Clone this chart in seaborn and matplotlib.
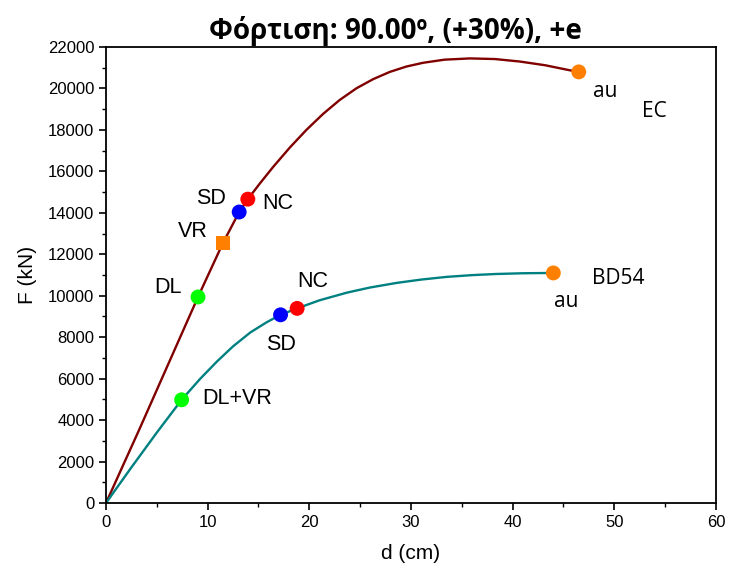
import matplotlib
matplotlib.use("Agg")
import matplotlib.pyplot as plt
import seaborn as sns
import pandas as pd
from matplotlib.ticker import MultipleLocator

# ---- data ----
ec_d = [0, 3.25, 9.05, 11.5, 13.1, 13.95, 15.14, 16.45, 18.1, 19.73, 21.37, 23.0, 24.64,
        26.28, 27.92, 29.56, 31.2, 33.3, 35.8, 38.25, 40.7, 43.2, 45.6, 46.5]
ec_F = [0, 3520, 9940, 12540, 14040, 14660, 15420, 16220, 17160, 18010, 18780, 19450, 20010,
        20450, 20800, 21060, 21240, 21390, 21450, 21420, 21300, 21120, 20880, 20800]

bd_d = [0, 2.5, 5.0, 7.44, 9.24, 10.9, 12.5, 14.2, 15.8, 17.17, 18.8,
        21.0, 23.7, 26.0, 28.6, 31.0, 33.5, 36.0, 38.4, 41.0, 44.0]
bd_F = [0, 1720, 3400, 4980, 5980, 6820, 7560, 8230, 8720, 9080, 9390,
        9780, 10150, 10400, 10620, 10780, 10910, 10995, 11050, 11085, 11100]

ec_pt_names = ["DL", "VR", "SD", "NC", "au"]
ec_pt_d = [9.05, 11.5, 13.1, 13.95, 46.5]
ec_pt_F = [9940, 12540, 14040, 14660, 20800]

bd_pt_names = ["DL+VR", "SD", "NC", "au"]
bd_pt_d = [7.44, 17.17, 18.8, 44.0]
bd_pt_F = [4980, 9080, 9390, 11100]

point_colors = {"DL": "#00FF00", "DL+VR": "#00FF00", "VR": "#FF8000",
                "SD": "#0000FF", "NC": "#FF0000", "au": "#FF8000"}

title = "Φόρτιση: 90.00º, (+30%), +e"
xlabel = "d (cm)"
ylabel = "F (kN)"

sns.set_theme(style="ticks")
plt.rcParams["font.family"] = ["Liberation Sans", "DejaVu Sans"]
plt.rcParams.update({"text.color": "black", "axes.labelcolor": "black",
                     "xtick.color": "black", "ytick.color": "black",
                     "axes.edgecolor": "black"})

fig = plt.figure(figsize=(7.33, 5.72), dpi=100)
ax = fig.add_axes([0.1446, 0.1206, 0.8322, 0.7972])

ec_df = pd.DataFrame({"d": ec_d, "F": ec_F})
bd_df = pd.DataFrame({"d": bd_d, "F": bd_F})
sns.lineplot(data=ec_df, x="d", y="F", sort=False, color="#800000", lw=1.7, ax=ax)
sns.lineplot(data=bd_df, x="d", y="F", sort=False, color="#008080", lw=1.7, ax=ax)

ec_pts = pd.DataFrame({"d": ec_pt_d, "F": ec_pt_F, "name": ec_pt_names})
bd_pts = pd.DataFrame({"d": bd_pt_d, "F": bd_pt_F, "name": bd_pt_names})

for df in (ec_pts, bd_pts):
    for _, r in df.iterrows():
        marker = "s" if r["name"] == "VR" else "o"
        sns.scatterplot(x=[r["d"]], y=[r["F"]], color=point_colors[r["name"]],
                        marker=marker, s=115 if marker == "o" else 95,
                        edgecolor="none", ax=ax, zorder=5)

# labels
arial = ["Liberation Sans", "DejaVu Sans"]
calib = ["Open Sans", "DejaVu Sans"]
lbl = dict(fontsize=15.5, ha="center", va="center", family=arial)
rl = dict(fontsize=15, ha="center", va="center", family=calib)
ax.text(6.1, 10420, "DL", **lbl)
ax.text(8.55, 13120, "VR", **lbl)
ax.text(10.3, 14710, "SD", **lbl)
ax.text(16.9, 14470, "NC", **lbl)
ax.text(12.9, 5020, "DL+VR", **lbl)
ax.text(17.2, 7670, "SD", **lbl)
ax.text(20.35, 10710, "NC", **lbl)
ax.text(49.1, 19870, "au", **rl)
ax.text(53.9, 18910, "EC", **rl)
ax.text(50.4, 10810, "BD54", **rl)
ax.text(45.3, 9700, "au", **rl)

ax.set_xlim(0, 60)
ax.set_ylim(0, 22000)
ax.xaxis.set_major_locator(MultipleLocator(10))
ax.xaxis.set_minor_locator(MultipleLocator(5))
ax.yaxis.set_major_locator(MultipleLocator(2000))
ax.yaxis.set_minor_locator(MultipleLocator(1000))
ax.tick_params(which="major", direction="out", length=5, width=1.2, labelsize=12, color="black")
ax.tick_params(which="minor", direction="out", length=3, width=1.0, color="black")
for s in ax.spines.values():
    s.set_linewidth(1.3)
    s.set_color("black")

ax.set_xlabel(xlabel, fontsize=15, labelpad=10)
ax.set_ylabel(ylabel, fontsize=15, labelpad=8)
ax.set_title(title, fontsize=20, fontweight="bold", family=["Open Sans", "DejaVu Sans"],
             pad=6, x=0.475)

fig.savefig("out.png", dpi=100)
